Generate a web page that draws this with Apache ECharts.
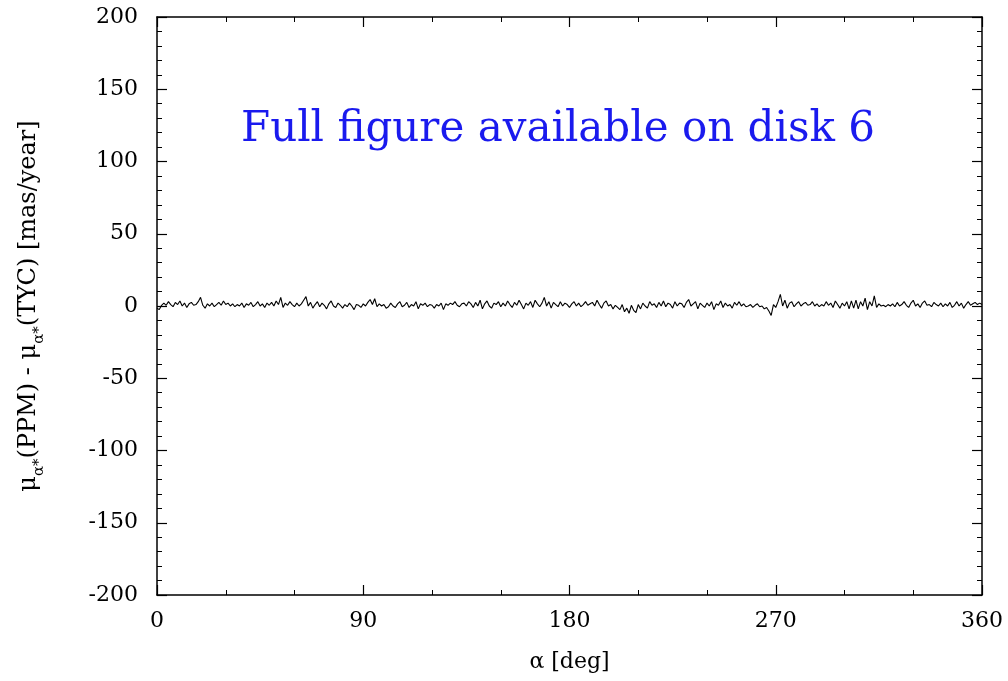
<!DOCTYPE html>
<html>
<head>
<meta charset="utf-8">
<script src="https://cdn.jsdelivr.net/npm/echarts@6/dist/echarts.min.js"></script>
<style>
  html, body { margin: 0; padding: 0; background: #fff; }
  #chart { width: 1008px; height: 681px; }
</style>
</head>
<body>
<div id="chart"></div>
<script>
// mean PPM - TYC difference per 1 deg bin of right ascension
const dmu = [
  -1.5, -2.5, 0.5, 2, 0.5, 3, 1, -0.5, 2.5, 1,
  3.5, 0, 2, -1, 1.5, 2.5, 0.5, 1, 3, 6,
  0.5, -1.5, 1.5, 0, 2, -0.5, 1, 2.5, 0.5, 3.5,
  1, 2, 0, 1.5, -0.5, 1, 0, 2, -1, 1.5,
  0.5, 2.5, -0.5, 1, 3, 0, 1.5, -1, 2, 0.5,
  2.5, 0, 3.5, 1, 6, -1, 2, 0.5, 3, 1,
  -0.5, 2, 0, 1.5, 4, 6.5, 0, 2.5, -1.5, 1,
  3, -0.5, 2, 0.5, -2, 1.5, 3.5, 0, -1, 2,
  0.5, -1.5, 1, -0.5, 2, 0, -2.5, 1, 0.5, -1,
  1.5, 0, 2.5, 4.5, 1, 5, -0.5, 1.5, 0, 1,
  -1.5, -0.5, 2, 0, -1, 1.5, 3, -0.5, 0.5, 2.5,
  -1, 1, 0, 3, -2, 1.5, 0.5, 2, -0.5, 1,
  0.5, -1.5, 1, 0, 2, -2.5, 1.5, 0.5, 2, 1,
  3, 0.5, -0.5, 1.5, 2, 0, 3, 1.5, -1, 2.5,
  0, 4, -2, 1.5, 3.5, 0, -1.5, 2, 1, 3,
  -0.5, 2, 0, 3.5, 1, -1, 2.5, 0.5, 4, 1,
  -2, 2, 0.5, 3, -1, 4, 1.5, -0.5, 2, 6,
  0, 3, -1.5, 2.5, 1, -0.5, 3, 0, 2, 1,
  -1, 1.5, 3, 0, 2, -0.5, 1, 3, 0.5, 1.5,
  2.5, 0, 4, 1, -1.5, 2, 3.5, 0, 1, -2,
  0.5, -1, -2.5, 1, -4, -1.5, -5, 0.5, -3, -4.5,
  1, -2, 2, 0, -1.5, 3, 0.5, 1.5, -1, 2.5,
  0, 3.5, -0.5, 2, 1, -1.5, 3, 0, 2, 1.5,
  -1, 2.5, 4.5, 0, 1.5, 3, -2, 2, 0.5, -1,
  2, 0, 3, -2.5, 1.5, 0.5, 3.5, -1, 2, 0,
  1, -1.5, 2.5, 0.5, 3, 0, 1.5, -0.5, 0, 1,
  -1, 0.5, 1.5, -0.5, 0, -2, -1, -3.5, -6.5, 1,
  -1, 3, 8, 0, 4, -1.5, 2, 3, -0.5, 1.5,
  3, 0, 1.5, 2.5, 0.5, 1, 3, 0, 1.5, -0.5,
  1, 0, 3, 0.5, 2, -1, 3.5, 1, -1.5, 2,
  0, 3, -2, 3.5, -1.5, 4, -2, 3, 0, 5.5,
  -2.5, 3, 0, 7, -1, 1.5, 0, 0.5, -0.5, 1,
  0, 1.5, -0.5, 2.5, 0, 1, 3, 0.5, -1, 2,
  4, 0, 1.5, -1, 2, 3.5, 0.5, 1, -0.5, 2.5,
  1, 0, 2, -0.5, 1.5, 0, 2.5, -1, 0.5, 3,
  0, 2, -1.5, 1, 3, 0.5, 1.5, 2.5, 1, 2,
  1
];
const raStep = 1; // deg per bin
const xTicks = [0, 90, 180, 270, 360];
const yTicks = [-200, -150, -100, -50, 0, 50, 100, 150, 200];

const serif = '"DejaVu Serif", "Liberation Serif", serif';
const points = dmu.map((v, i) => [i * raStep, v]);

const chart = echarts.init(document.getElementById('chart'));

const axisCommon = {
  axisLine: { show: true, onZero: false, lineStyle: { color: '#000', width: 1.5 } },
  axisTick: { show: true, inside: true, length: 10, lineStyle: { color: '#000', width: 1.2 } },
  splitLine: { show: false }
};
const minor = (n) => ({ minorTick: { show: true, splitNumber: n, length: 5, lineStyle: { color: '#000', width: 1 } } });

const option = {
  backgroundColor: '#fff',
  animation: false,
  grid: { left: 157, right: 26, top: 17, bottom: 86 },
  xAxis: [
    Object.assign({
      type: 'value', position: 'bottom',
      min: xTicks[0], max: xTicks[xTicks.length - 1], interval: 90,
      axisLabel: { color: '#000', fontFamily: serif, fontSize: 22, margin: 15 },
      name: 'α [deg]', nameLocation: 'middle', nameGap: 56,
      nameTextStyle: { color: '#000', fontFamily: serif, fontSize: 22 }
    }, axisCommon, minor(3)),
    Object.assign({
      type: 'value', position: 'top',
      min: xTicks[0], max: xTicks[xTicks.length - 1], interval: 90,
      axisLabel: { show: false }
    }, axisCommon, minor(3))
  ],
  yAxis: [
    Object.assign({
      type: 'value', position: 'left',
      min: yTicks[0], max: yTicks[yTicks.length - 1], interval: 50,
      axisLabel: { color: '#000', fontFamily: serif, fontSize: 22, margin: 19 },
      name: '{t|μ}{s|α*}{t|(PPM) - μ}{s|α*}{t|(TYC) [mas/year]}',
      nameLocation: 'middle', nameGap: 116, nameRotate: 90,
      nameTextStyle: {
        color: '#000', fontFamily: serif, fontSize: 24,
        rich: {
          t: { fontFamily: serif, fontSize: 24, color: '#000', lineHeight: 30, verticalAlign: 'bottom' },
          s: { fontFamily: serif, fontSize: 15, color: '#000', lineHeight: 30, verticalAlign: 'bottom', padding: [0, 0, -6, 0] }
        }
      }
    }, axisCommon, minor(5)),
    Object.assign({
      type: 'value', position: 'right',
      min: yTicks[0], max: yTicks[yTicks.length - 1], interval: 50,
      axisLabel: { show: false }
    }, axisCommon, minor(5))
  ],
  graphic: [{
    type: 'text',
    left: 241, top: 109,
    style: {
      text: 'Full figure available on disk 6',
      fill: '#1a1aee',
      font: '42px ' + serif
    }
  }],
  series: [{
    type: 'line',
    data: points,
    showSymbol: false,
    lineStyle: { color: '#000', width: 1.1 },
    silent: true
  }]
};

chart.setOption(option);
</script>
</body>
</html>
